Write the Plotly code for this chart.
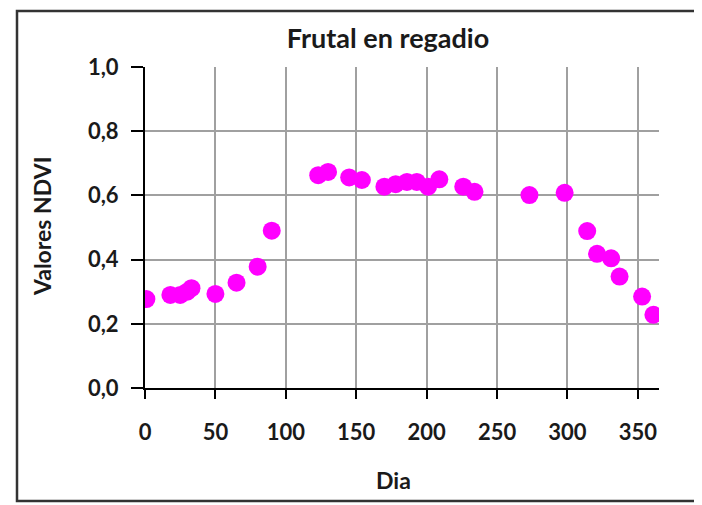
import plotly.graph_objects as go

# Data
dia = [1, 18, 25, 30, 33, 50, 65, 80, 90,
       123, 130, 145, 154, 170, 178, 186, 193, 201, 209, 226, 234,
       273, 298, 314, 321, 331, 337, 353, 361]
ndvi = [0.277, 0.290, 0.290, 0.300, 0.311, 0.293, 0.328, 0.378, 0.490,
        0.663, 0.673, 0.656, 0.648, 0.627, 0.635, 0.642, 0.642, 0.627, 0.650, 0.627, 0.611,
        0.601, 0.608, 0.489, 0.418, 0.404, 0.347, 0.285, 0.228]

x_ticks = [0, 50, 100, 150, 200, 250, 300, 350]
y_ticks = [0.0, 0.2, 0.4, 0.6, 0.8, 1.0]
title_text = "Frutal en regadio"
x_title = "Dia"
y_title = "Valores NDVI"

FONT = "Lato, 'Open Sans', sans-serif"
TXT = "#1a1a1a"

# page body has an 8px margin, so the figure is drawn 8px in from the window edge
OFF = 8
W, H = 702 - OFF, 505 - OFF
L, R, T, B = 145 - OFF, 43, 67 - OFF, 117
pw = W - L - R
ph = H - T - B

def px(xp):
    return (xp - OFF - L) / pw

def py(yp):
    return (H - B - (yp - OFF)) / ph

fig = go.Figure()
fig.add_trace(go.Scatter(
    x=dia, y=ndvi, mode="markers",
    marker=dict(color="#FF00FF", size=18, line=dict(width=0)),
    showlegend=False, hoverinfo="x+y",
))

fig.update_layout(
    width=W, height=H,
    margin=dict(l=L, r=R, t=T, b=B),
    paper_bgcolor="white", plot_bgcolor="white",
    separators=",.",
    font=dict(family=FONT, color=TXT),
    title=dict(text="<b>" + title_text + "</b>", x=(388 - OFF) / W, xref="container",
               xanchor="center", y=1 - (39 - OFF) / H, yref="container", yanchor="middle",
               font=dict(size=27, family=FONT, color=TXT)),
    xaxis=dict(range=[0, 365], tickmode="array", tickvals=x_ticks,
               ticktext=["<b>%d</b>" % v for v in x_ticks],
               showgrid=True, gridcolor="#a0a0a0", gridwidth=2,
               showline=True, linecolor="black", linewidth=2,
               ticks="outside", ticklen=9, tickwidth=2, tickcolor="black",
               ticklabelstandoff=15,
               tickfont=dict(size=22, family=FONT, color=TXT),
               zeroline=False, fixedrange=True),
    yaxis=dict(range=[0, 1], tickmode="array", tickvals=y_ticks,
               ticktext=["<b>%s</b>" % ("%.1f" % v).replace(".", ",") for v in y_ticks],
               showgrid=True, gridcolor="#a0a0a0", gridwidth=2,
               showline=True, linecolor="black", linewidth=2,
               ticks="outside", ticklen=12, tickwidth=2, tickcolor="black",
               ticklabelstandoff=8,
               tickfont=dict(size=22, family=FONT, color=TXT),
               zeroline=False, fixedrange=True),
    annotations=[
        dict(text="<b>" + x_title + "</b>", xref="paper", yref="paper",
             x=px(393), y=py(480), xanchor="center", yanchor="middle",
             showarrow=False, font=dict(size=23, family=FONT, color=TXT)),
        dict(text="<b>" + y_title + "</b>", xref="paper", yref="paper",
             x=px(42), y=py(226), xanchor="center", yanchor="middle",
             textangle=-90, showarrow=False,
             font=dict(size=23, family=FONT, color=TXT)),
    ],
    shapes=[
        dict(type="rect", xref="paper", yref="paper",
             x0=px(17), x1=px(699), y0=py(501), y1=py(11),
             line=dict(color="#333333", width=2.5), layer="below"),
    ],
)

fig.write_html("out.html")
